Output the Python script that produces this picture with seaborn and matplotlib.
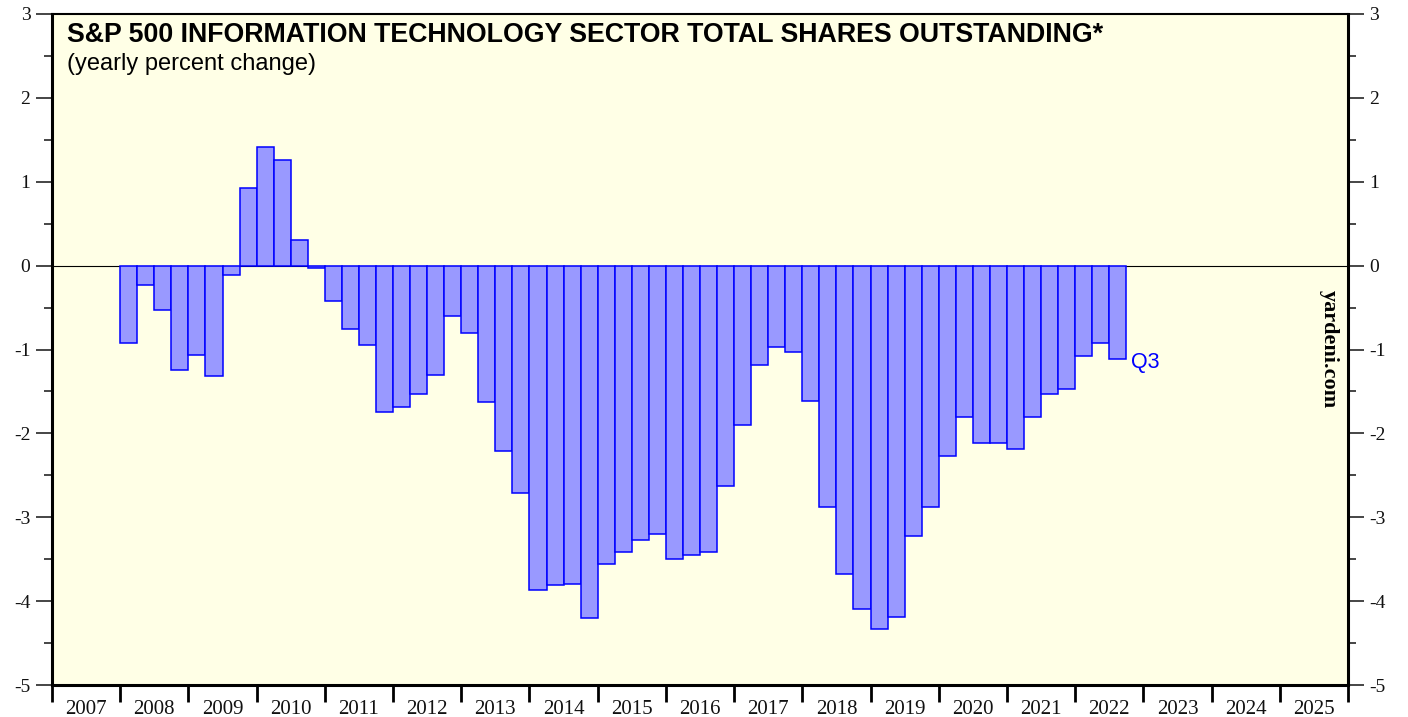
import numpy as np
import pandas as pd
import matplotlib
matplotlib.use("Agg")
import matplotlib.pyplot as plt
from matplotlib.ticker import MultipleLocator, FixedLocator, NullFormatter
import seaborn as sns

# ---- data (quarterly, 2008 Q1 .. 2022 Q3) ----
years = [2008]*4 + [2009]*4 + [2010]*4 + [2011]*4 + [2012]*4 + [2013]*4 + [2014]*4 + \
        [2015]*4 + [2016]*4 + [2017]*4 + [2018]*4 + [2019]*4 + [2020]*4 + [2021]*4 + [2022]*3
quarters = [1, 2, 3, 4]*14 + [1, 2, 3]
pct_change = [
    -0.92, -0.23, -0.53, -1.25,   # 2008
    -1.07, -1.31, -0.11, 0.92,    # 2009
    1.41, 1.26, 0.30, -0.03,      # 2010
    -0.42, -0.76, -0.95, -1.74,   # 2011
    -1.68, -1.53, -1.30, -0.60,   # 2012
    -0.80, -1.63, -2.21, -2.71,   # 2013
    -3.87, -3.81, -3.79, -4.20,   # 2014
    -3.56, -3.42, -3.27, -3.20,   # 2015
    -3.50, -3.45, -3.42, -2.63,   # 2016
    -1.90, -1.18, -0.97, -1.03,   # 2017
    -1.61, -2.88, -3.68, -4.09,   # 2018
    -4.33, -4.19, -3.22, -2.88,   # 2019
    -2.27, -1.81, -2.12, -2.11,   # 2020
    -2.19, -1.80, -1.53, -1.47,   # 2021
    -1.08, -0.92, -1.11,          # 2022
]
year_labels = [str(y) for y in range(2007, 2026)]
y_ticks = [-5, -4, -3, -2, -1, 0, 1, 2, 3]
title = "S&P 500 INFORMATION TECHNOLOGY SECTOR TOTAL SHARES OUTSTANDING*"
subtitle = "(yearly percent change)"
last_label = "Q3"
watermark = "yardeni.com"

df = pd.DataFrame({"year": years, "quarter": quarters, "value": pct_change})
df["t"] = df["year"] + (df["quarter"] - 1) * 0.25 + 0.125

# ---- style ----
sns.set_style("ticks")
plt.rcParams["font.family"] = ["Liberation Serif", "DejaVu Serif"]

BG = "#FFFFE6"
FILL = "#9999FF"
EDGE = "#0000FF"

fig = plt.figure(figsize=(14.08, 7.17), dpi=100)
fig.patch.set_facecolor("white")
ax = fig.add_axes([52/1408, 32/717, 1296/1408, 671/717])
ax.set_facecolor(BG)

ax.axhline(0, color="black", lw=0.8, zorder=1)
sns.barplot(data=df, x="t", y="value", native_scale=True, width=1.0,
            color=FILL, saturation=1, edgecolor=EDGE, linewidth=1.1,
            errorbar=None, ax=ax, zorder=2)

ax.set_xlim(2007, 2026)
ax.set_ylim(-5, 3)
ax.set_xlabel("")
ax.set_ylabel("")

# x axis: boundary ticks at year starts, labels centered in each year
ax.xaxis.set_major_locator(FixedLocator(list(range(2007, 2027))))
ax.xaxis.set_major_formatter(NullFormatter())
ax.xaxis.set_minor_locator(FixedLocator([y + 0.5 for y in range(2007, 2026)]))
ax.set_xticklabels(year_labels, minor=True)
ax.tick_params(axis="x", which="major", direction="out", length=12, width=2, color="black")
ax.tick_params(axis="x", which="minor", length=0, pad=11, labelsize=15, labelcolor="#111111")

# y axis both sides
ax.yaxis.set_major_locator(FixedLocator(y_ticks))
ax.yaxis.set_minor_locator(MultipleLocator(0.5))
ax.set_yticklabels([str(v) for v in y_ticks])
ax.tick_params(axis="y", which="major", direction="out", length=11.5, width=1.2,
               left=True, right=True, labelleft=True, labelright=True,
               labelsize=14, pad=4, labelcolor="#111111")
ax.tick_params(axis="y", which="minor", direction="out", length=5.5, width=1.2,
               left=True, right=True)

for s in ["left", "right", "top", "bottom"]:
    ax.spines[s].set_visible(True)
    ax.spines[s].set_color("black")
ax.spines["left"].set_linewidth(2.2)
ax.spines["right"].set_linewidth(2.2)
ax.spines["top"].set_linewidth(1.5)
ax.spines["bottom"].set_linewidth(2.2)

# titles
fig.text(67/1408, 1 - 42.5/717, title, fontsize=19.3, fontweight="bold",
         family=["Liberation Sans", "DejaVu Sans"], color="black", va="baseline", ha="left")
fig.text(67/1408, 1 - 70/717, subtitle, fontsize=17,
         family=["Liberation Sans", "DejaVu Sans"], color="black", va="baseline", ha="left")

# Q3 annotation next to last bar
last_t = df["t"].iloc[-1]
last_v = df["value"].iloc[-1]
ax.text(last_t + 0.2, last_v - 0.05, last_label, color=EDGE, fontsize=15.5,
        family=["Liberation Sans", "DejaVu Sans"], va="center", ha="left")

# watermark
fig.text(1329/1408, 1 - 349/717, watermark, rotation=270, fontsize=16, fontweight="bold",
         family=["Liberation Serif", "DejaVu Serif"], va="center", ha="center", color="black")

fig.savefig("out.png", dpi=100, facecolor="white")
